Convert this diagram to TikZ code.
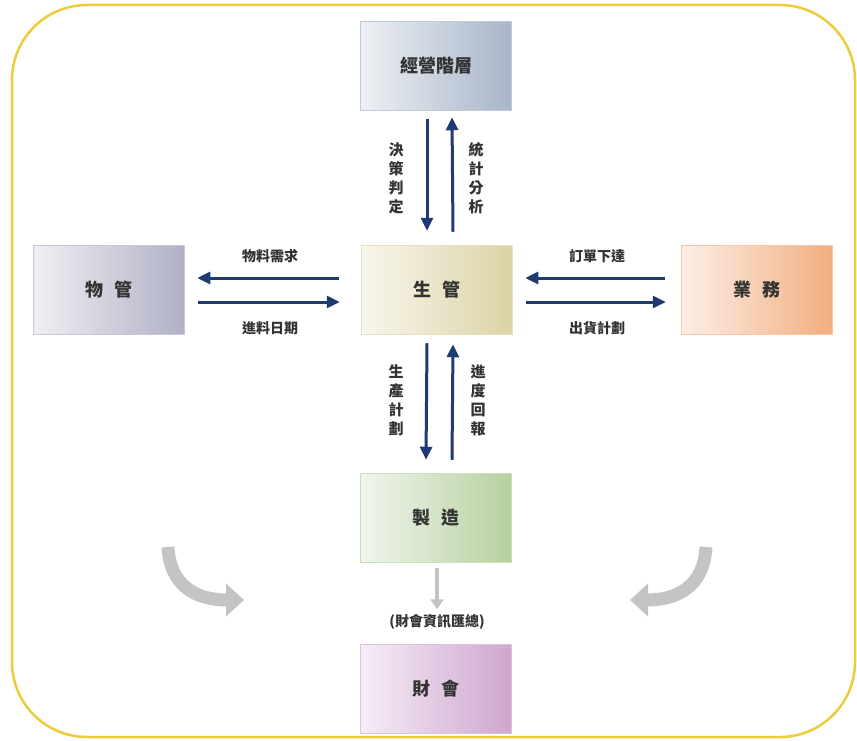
\documentclass[tikz,border=0pt]{standalone}
\usepackage{fontspec}
\usetikzlibrary{arrows.meta,calc}
\newfontfamily\cjk{Noto Sans CJK TC}
\definecolor{navy}{HTML}{1F3A70}
\definecolor{frame}{HTML}{EECB3A}
\definecolor{txt}{HTML}{333333}
\definecolor{cTop}{HTML}{A8B5C8}
\definecolor{cPm}{HTML}{DCD3A6}
\definecolor{cWm}{HTML}{B0B0C6}
\definecolor{cBiz}{HTML}{F2AE80}
\definecolor{cMfg}{HTML}{B6D0A0}
\definecolor{cFin}{HTML}{CFA6CF}
\definecolor{ghost}{HTML}{C4C4C4}
\tikzset{
  box/.style={minimum width=151pt, minimum height=89pt, inner sep=0pt,
    font=\cjk\bfseries\fontsize{18}{18}\selectfont, text=txt,
    draw=#1!70!white, line width=1.5pt, left color=#1!20!white, right color=#1},
  flow/.style={draw=navy, line width=3pt, -{Triangle[length=13pt,width=12pt]}},
  lab/.style={font=\cjk\bfseries\fontsize{14}{14}\selectfont, text=txt, inner sep=0pt},
  vlab/.style={lab, align=center, font=\cjk\bfseries\fontsize{15}{19}\selectfont},
  bigarrow/.style={draw=ghost, line width=13pt, -{Triangle[length=18pt,width=32pt]}},
  smallarrow/.style={draw=ghost, line width=4pt, -{Triangle[length=10pt,width=13pt]}}
}
\begin{document}
\begin{tikzpicture}[x=1pt,y=-1pt]
\useasboundingbox (0,0) rectangle (857,741);
\draw[frame, line width=2.5pt, rounded corners=75pt] (12,5) rectangle (855,737);

\node[box=cTop] (top) at (436,66) {經營階層};
\node[box=cPm] (pm) at (437,290) {生\hspace{0.6em}管};
\node[box=cWm] (wm) at (109,290) {物\hspace{0.6em}管};
\node[box=cBiz] (biz) at (757,290) {業\hspace{0.6em}務};
\node[box=cMfg] (mfg) at (436,518) {製\hspace{0.6em}造};
\node[box=cFin] (fin) at (436,689) {財\hspace{0.6em}會};

% top pair
\draw[flow] ($(top.south)+(-9,8)$) -- ($(pm.north)+(-10,-14)$);
\draw[flow] ($(pm.north)+(16,-13)$) -- ($(top.south)+(16,6)$);
\node[vlab] (l1) at (396,178) {決\\策\\判\\定};
\node[vlab] (l2) at (476,178) {統\\計\\分\\析};

% left pair
\draw[flow] ($(pm.west)+(-22,-12)$) -- ($(wm.east)+(12,-12)$);
\draw[flow] ($(wm.east)+(13,12)$) -- ($(pm.west)+(-21,12)$);
\node[lab] (l3) at (270,256) {物料需求};
\node[lab] (l4) at (270,328) {進料日期};

% right pair
\draw[flow] ($(biz.west)+(-16,-12)$) -- ($(pm.east)+(12,-12)$);
\draw[flow] ($(pm.east)+(13,12)$) -- ($(biz.west)+(-15,12)$);
\node[lab] (l5) at (597,256) {訂單下達};
\node[lab] (l6) at (597,328) {出貨計劃};

% bottom pair
\draw[flow] ($(pm.south)+(-10,8)$) -- ($(mfg.north)+(-10,-13)$);
\draw[flow] ($(mfg.north)+(16,-13)$) -- ($(pm.south)+(16,9)$);
\node[vlab] (l7) at (396,400) {生\\產\\計\\劃};
\node[vlab] (l8) at (478,400) {進\\度\\回\\報};

% to finance
\node[lab] (sum) at (437,622) {(財會資訊匯總)};
\draw[smallarrow] ($(mfg.south)+(1,5)$) -- ($(sum.north)+(0,-5)$);

% big grey curved arrows
\coordinate (a1) at (168,547);
\coordinate (a2) at (244,600);
\coordinate (b1) at (706,547);
\coordinate (b2) at (630,600);
\draw[bigarrow] (a1) .. controls (170,585) and (195,600) .. (a2);
\draw[bigarrow] (b1) .. controls (704,585) and (679,600) .. (b2);
\end{tikzpicture}
\end{document}
